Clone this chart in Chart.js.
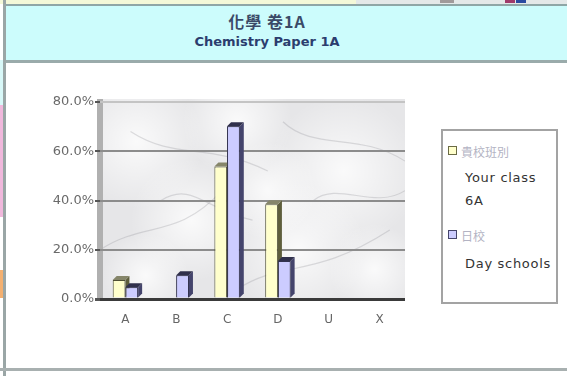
<!DOCTYPE html>
<html>
<head>
<meta charset="utf-8">
<script src="https://cdn.jsdelivr.net/npm/chart.js@4/dist/chart.umd.min.js"></script>
<style>
  html, body { margin: 0; padding: 0; background: #ffffff; }
  #page { position: relative; width: 567px; height: 376px; overflow: hidden; background: #ffffff; }
  .blk { position: absolute; }
  #band { left: 6px; top: 4px; width: 561px; height: 54px; background: #ccfcfc;
          border-top: 2px solid #8fa6a6; border-bottom: 3px solid #9aabab; }
  #t1 { position: absolute; left: 167px; width: 200px; top: 9px; text-align: center;
        font: bold 16px "Noto Sans CJK TC", sans-serif; letter-spacing: 1px; color: #3a4a68; }
  #t2 { position: absolute; left: 142px; width: 250px; top: 34px; text-align: center;
        font: bold 13px "DejaVu Sans", sans-serif; color: #2b3d6e; }
  #legend { position: absolute; left: 441px; top: 129px; width: 113px; height: 171px;
            border: 2px solid #a3a3a3; background: #ffffff; }
  .sw { position: absolute; width: 7px; height: 7px; }
  .lt { position: absolute; white-space: nowrap; line-height: 16px; }
  .zh { font: 12px "Noto Sans CJK TC", sans-serif; color: #b3b3c3; }
  .en { font: 13px "DejaVu Sans", sans-serif; color: #333333; letter-spacing: 0.7px; }
  canvas { position: absolute; left: 0; top: 0; }
</style>
</head>
<body>
<div id="page">
  <!-- surrounding sheet cells -->
  <div class="blk" style="left:0;top:0;width:356px;height:4px;background:#f4f8d8;"></div>
  <div class="blk" style="left:356px;top:0;width:211px;height:4px;background:#e4e8e8;"></div>
  <div class="blk" style="left:440px;top:0;width:14px;height:3px;background:#a09a9a;"></div>
  <div class="blk" style="left:505px;top:0;width:10px;height:3px;background:#a03a6a;"></div>
  <div class="blk" style="left:516px;top:0;width:10px;height:3px;background:#2a4aa0;"></div>
  <div class="blk" style="left:0;top:60px;width:3px;height:45px;background:#d8f8f8;"></div>
  <div class="blk" style="left:0;top:105px;width:3px;height:112px;background:#f0b8dc;"></div>
  <div class="blk" style="left:0;top:270px;width:3px;height:28px;background:#f4b070;"></div>
  <div class="blk" style="left:3px;top:0;width:3px;height:376px;background:#9aa6a6;"></div>
  <div class="blk" style="left:0;top:368px;width:567px;height:3px;background:#a8b0b0;"></div>

  <div class="blk" id="band"></div>
  <div id="t1">化學 卷1A</div>
  <div id="t2">Chemistry Paper 1A</div>

  <canvas id="chart" width="567" height="376"></canvas>

  <div id="legend">
    <div class="sw" style="left:5px;top:15px;background:#ffffcc;border:1.5px solid #6b6b45;"></div>
    <div class="lt zh" style="left:18px;top:12px;">貴校班別</div>
    <div class="lt en" style="left:22px;top:39px;">Your class</div>
    <div class="lt en" style="left:22px;top:62px;">6A</div>
    <div class="sw" style="left:5px;top:99px;background:#ccccff;border:1.5px solid #45456b;"></div>
    <div class="lt zh" style="left:18px;top:96px;">日校</div>
    <div class="lt en" style="left:22px;top:125px;">Day schools</div>
  </div>
</div>

<script>
// Grade distribution, Chemistry Paper 1A (percent of candidates)
const grades = ['A', 'B', 'C', 'D', 'U', 'X'];
const yourClass = [7.7, 0, 53.8, 38.5, 0, 0];
const daySchools = [4.8, 9.6, 70.2, 15.4, 0, 0];
const yTicks = [0, 20, 40, 60, 80];

const DEPTH = 4;

// marbled wall behind the columns, plus the left side wall
const wallPlugin = {
  id: 'wall',
  beforeDraw(chart) {
    const { ctx, chartArea: a } = chart;
    const w = a.right - a.left, h = a.bottom - a.top;
    ctx.save();
    ctx.fillStyle = '#e6e6e8';
    ctx.fillRect(a.left, a.top - 3, w, h + 3);
    const spots = [[0.12, 0.2, 0.22], [0.45, 0.1, 0.18], [0.8, 0.35, 0.25], [0.3, 0.6, 0.2],
                   [0.65, 0.75, 0.22], [0.9, 0.85, 0.15], [0.15, 0.88, 0.14], [0.55, 0.45, 0.16]];
    spots.forEach(([fx, fy, fr]) => {
      const cx = a.left + fx * w, cy = a.top + fy * h, r = fr * w;
      const g = ctx.createRadialGradient(cx, cy, 0, cx, cy, r);
      g.addColorStop(0, 'rgba(255,255,255,0.8)');
      g.addColorStop(1, 'rgba(255,255,255,0)');
      ctx.fillStyle = g;
      ctx.fillRect(a.left, a.top - 3, w, h + 3);
    });
    ctx.beginPath();
    ctx.rect(a.left, a.top - 3, w, h + 3);
    ctx.clip();
    ctx.strokeStyle = 'rgba(150,150,155,0.3)';
    ctx.lineWidth = 1.2;
    const veins = [
      [[0.0, 0.75], [0.15, 0.6], [0.25, 0.7], [0.4, 0.45]],
      [[0.1, 0.15], [0.25, 0.3], [0.35, 0.2], [0.55, 0.35]],
      [[0.45, 0.95], [0.6, 0.8], [0.7, 0.9], [0.95, 0.65]],
      [[0.6, 0.1], [0.7, 0.25], [0.85, 0.15], [1.0, 0.3]],
      [[0.2, 0.5], [0.3, 0.4], [0.35, 0.55], [0.5, 0.6]],
      [[0.7, 0.5], [0.78, 0.4], [0.9, 0.55], [1.0, 0.45]]
    ];
    veins.forEach(p => {
      ctx.beginPath();
      ctx.moveTo(a.left + p[0][0] * w, a.top + p[0][1] * h);
      ctx.bezierCurveTo(a.left + p[1][0] * w, a.top + p[1][1] * h,
                        a.left + p[2][0] * w, a.top + p[2][1] * h,
                        a.left + p[3][0] * w, a.top + p[3][1] * h);
      ctx.stroke();
    });
    ctx.restore();
    ctx.save();
    ctx.fillStyle = '#b0b0b0';
    ctx.fillRect(a.left - 3, a.top - 3, 6, h + 3);
    ctx.restore();
  }
};

// top and side faces that give each column its depth; later series are
// redrawn so their fronts sit over the side faces of the series before them
const depthPlugin = {
  id: 'depth',
  afterDatasetsDraw(chart) {
    const { ctx } = chart;
    chart.data.datasets.forEach((ds, di) => {
      const meta = chart.getDatasetMeta(di);
      if (di > 0) meta.data.forEach(bar => bar.draw(ctx));
      ctx.save();
      meta.data.forEach((bar, i) => {
        if (!ds.data[i]) return;
        const p = bar.getProps(['x', 'y', 'base', 'width'], true);
        const l = p.x - p.width / 2, r = p.x + p.width / 2, t = p.y, b = p.base;
        ctx.fillStyle = ds.sideColor;
        ctx.beginPath();
        ctx.moveTo(r, t); ctx.lineTo(r + DEPTH, t - DEPTH);
        ctx.lineTo(r + DEPTH, b - DEPTH); ctx.lineTo(r, b);
        ctx.closePath(); ctx.fill();
        ctx.fillStyle = ds.topColor;
        ctx.beginPath();
        ctx.moveTo(l, t); ctx.lineTo(l + DEPTH, t - DEPTH);
        ctx.lineTo(r + DEPTH, t - DEPTH); ctx.lineTo(r, t);
        ctx.closePath(); ctx.fill();
      });
      ctx.restore();
    });
  }
};

new Chart(document.getElementById('chart'), {
  type: 'bar',
  data: {
    labels: grades,
    datasets: [
      { label: '貴校班別 Your class 6A', data: yourClass,
        backgroundColor: '#ffffcc', borderColor: '#4f4f33', borderWidth: 1,
        sideColor: '#5e5e3c', topColor: '#86866a' },
      { label: '日校 Day schools', data: daySchools,
        backgroundColor: '#ccccff', borderColor: '#33334f', borderWidth: 1,
        sideColor: '#44446c', topColor: '#30304c' }
    ]
  },
  options: {
    responsive: false,
    animation: false,
    devicePixelRatio: 1,
    layout: { padding: { left: 44, right: 162, top: 102, bottom: 41 } },
    plugins: { legend: { display: false }, tooltip: { enabled: false } },
    datasets: { bar: { categoryPercentage: 0.5, barPercentage: 1.0 } },
    scales: {
      x: {
        grid: { display: false, drawTicks: false },
        border: { display: false },
        ticks: { color: '#666666', padding: 14, font: { family: 'DejaVu Sans', size: 12 } },
        afterFit(s) { s.height = 36; }
      },
      y: {
        min: 0, max: 80,
        afterBuildTicks(s) { s.ticks = yTicks.map(v => ({ value: v })); },
        afterFit(s) { s.width = 56; },
        border: { display: false },
        grid: {
          drawTicks: true, tickLength: 5,
          tickColor: '#555555',
          color: c => c.tick.value === 0 ? '#3a3a3a' : (c.tick.value === 80 ? '#c4c4c4' : '#8c8c8c'),
          lineWidth: c => c.tick.value === 0 ? 3 : 2
        },
        ticks: {
          color: '#6a6a6a', padding: 1,
          font: { family: 'DejaVu Sans', size: 13 },
          callback: v => v.toFixed(1) + '%'
        }
      }
    }
  },
  plugins: [wallPlugin, depthPlugin]
});
</script>
</body>
</html>
